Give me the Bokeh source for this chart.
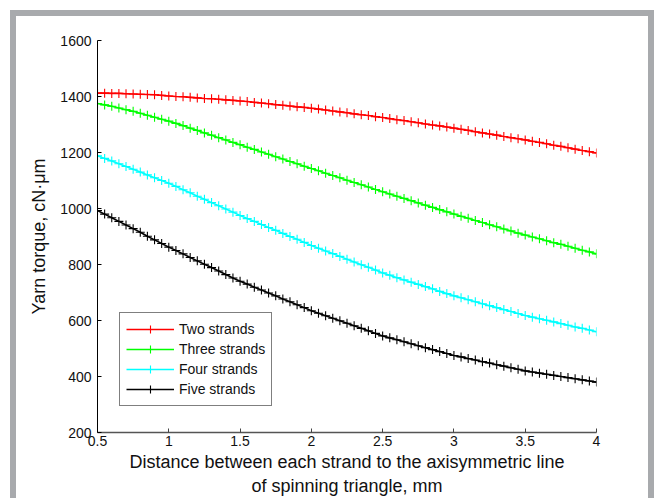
from bokeh.plotting import figure
from bokeh.models import Range1d, FixedTicker, Legend, LegendItem
from bokeh.embed import file_html
from bokeh.resources import INLINE

# ---- data ----
x_vals = [round(0.5 + 0.05 * i, 2) for i in range(71)]

two_strands = [1412, 1412, 1411, 1411, 1410, 1409, 1408, 1407, 1406, 1404, 1402,
               1400, 1399, 1397, 1395, 1393, 1392, 1390, 1388, 1386, 1384,
               1382, 1379, 1377, 1374, 1371, 1369, 1366, 1363, 1361, 1358,
               1355, 1352, 1348, 1345, 1342, 1338, 1335, 1332, 1328, 1325,
               1321, 1317, 1314, 1310, 1306, 1302, 1298, 1295, 1291, 1287,
               1283, 1279, 1274, 1270, 1266, 1262, 1257, 1253, 1249, 1245,
               1240, 1236, 1231, 1226, 1222, 1217, 1212, 1207, 1203, 1198]

three_strands = [1375, 1370, 1365, 1359, 1353, 1347, 1340, 1333, 1326, 1319, 1312,
                 1304, 1296, 1287, 1279, 1270, 1262, 1253, 1245, 1236, 1228,
                 1219, 1211, 1202, 1194, 1185, 1177, 1168, 1160, 1151, 1143,
                 1135, 1126, 1118, 1110, 1101, 1093, 1085, 1077, 1068, 1060,
                 1052, 1044, 1036, 1028, 1020, 1012, 1004, 996, 988, 980,
                 972, 965, 957, 950, 942, 935, 927, 920, 912, 905,
                 898, 892, 885, 878, 872, 865, 858, 851, 845, 838]

four_strands = [1188, 1179, 1170, 1160, 1150, 1140, 1130, 1120, 1110, 1100, 1090,
                1079, 1067, 1056, 1044, 1033, 1021, 1010, 998, 987, 975,
                964, 954, 943, 932, 922, 911, 900, 890, 879, 868,
                858, 848, 839, 829, 819, 809, 799, 790, 780, 770,
                762, 753, 745, 737, 729, 721, 713, 704, 696, 688,
                681, 674, 667, 660, 653, 646, 639, 632, 625, 618,
                612, 606, 601, 595, 589, 583, 577, 572, 566, 560]

five_strands = [993, 980, 967, 954, 941, 928, 915, 901, 888, 875, 862,
                850, 838, 825, 813, 801, 789, 777, 764, 752, 740,
                730, 719, 709, 698, 688, 677, 667, 656, 646, 635,
                626, 617, 608, 599, 590, 581, 572, 563, 554, 545,
                538, 531, 524, 517, 510, 503, 496, 489, 482, 475,
                470, 464, 459, 453, 448, 442, 437, 431, 426, 420,
                416, 412, 408, 404, 400, 396, 392, 388, 384, 380]

series_names = ["Two strands", "Three strands", "Four strands", "Five strands"]
series_values = [two_strands, three_strands, four_strands, five_strands]
series_colors = ["#ff0000", "#00ff00", "#00ffff", "#000000"]

x_ticks = [0.5, 1, 1.5, 2, 2.5, 3, 3.5, 4]
y_ticks = [200, 400, 600, 800, 1000, 1200, 1400, 1600]

FONT = "Liberation Sans"
GRAY = "#a8aaad"

p = figure(width=654, height=498, output_backend="svg", toolbar_location=None,
           x_range=Range1d(0.5, 4), y_range=Range1d(200, 1600),
           min_border_left=97, min_border_right=58, min_border_top=40, min_border_bottom=66)
p.background_fill_color = "white"
p.border_fill_color = None
p.outline_line_color = None
p.xgrid.grid_line_color = None
p.ygrid.grid_line_color = None

# gray panel frame drawn as CSS background layers behind the transparent border area
g = f"linear-gradient({GRAY},{GRAY})"
p.styles = {
    "background": (f"{g} 10px 10px / 644px 6px no-repeat, "
                   f"{g} 10px 10px / 6px 488px no-repeat, "
                   f"{g} 648px 10px / 6px 488px no-repeat, white"),
}

items = []
for name, vals, col in zip(series_names, series_values, series_colors):
    ln = p.line(x_vals, vals, line_color=col, line_width=1.6)
    sc = p.scatter(x_vals, vals, marker="cross", size=9, line_color=col, line_width=1.1)
    items.append(LegendItem(label=name, renderers=[ln, sc]))

# axes
for ax in (p.xaxis[0], p.yaxis[0]):
    ax.major_tick_in = 4
    ax.major_tick_out = 0
    ax.minor_tick_in = 0
    ax.minor_tick_out = 0
    ax.major_label_text_font = FONT
    ax.major_label_text_font_size = "14px"
    ax.major_label_text_color = "#111111"
    ax.axis_label_text_font = FONT
    ax.axis_label_text_font_size = "18px"
    ax.axis_label_text_font_style = "normal"
    ax.axis_label_text_color = "#111111"

p.xaxis.ticker = FixedTicker(ticks=x_ticks)
p.yaxis.ticker = FixedTicker(ticks=y_ticks)
p.xaxis.major_label_overrides = {0.5: "0.5", 1: "1", 1.5: "1.5", 2: "2", 2.5: "2.5",
                                 3: "3", 3.5: "3.5", 4: "4"}
p.xaxis.axis_line_color = "#555555"
p.xaxis.axis_line_width = 1.6
p.xaxis.major_tick_line_color = "#444444"
p.yaxis.axis_line_color = "#000000"
p.yaxis.major_tick_line_color = "#000000"
p.xaxis.major_label_standoff = 3
p.yaxis.major_label_standoff = 6
p.xaxis.axis_label = "Distance between each strand to the axisymmetric line\nof spinning triangle, mm"
p.yaxis.axis_label = "Yarn torque, cN\u00b7\u03bcm"
p.xaxis.axis_label_standoff = 3
p.yaxis.axis_label_standoff = 8

legend = Legend(items=items, location=(22, 26))
legend.label_text_font = FONT
legend.label_text_font_size = "14px"
legend.label_text_color = "#111111"
legend.glyph_width = 48
legend.glyph_height = 20
legend.label_height = 20
legend.label_standoff = 5
legend.spacing = 0
legend.padding = 6
legend.margin = 0
legend.border_line_color = "#000000"
legend.border_line_width = 1
legend.background_fill_color = "white"
legend.background_fill_alpha = 1
p.add_layout(legend, "center")

open("out.html", "w").write(file_html(p, INLINE))
